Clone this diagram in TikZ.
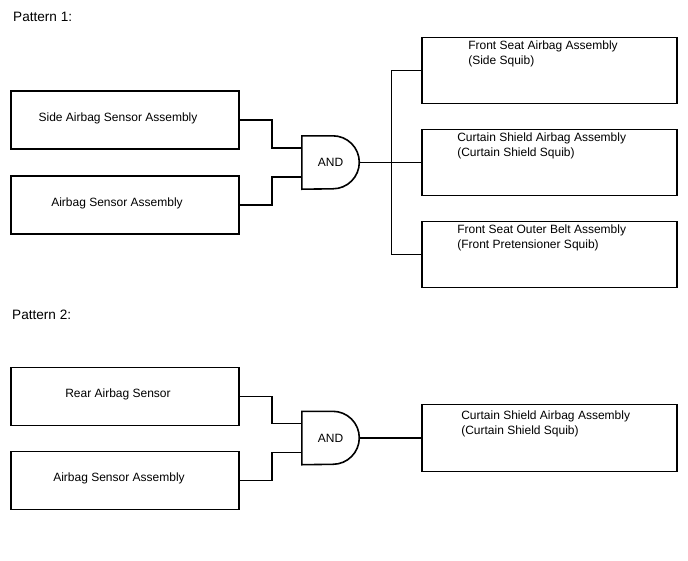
\documentclass[tikz,border=0pt]{standalone}
\usepackage{fontspec}
\setmainfont{Liberation Sans}
\usetikzlibrary{positioning,calc}
\tikzset{
  inbox/.style={draw=black,line width=1.8pt,minimum width=228pt,minimum height=58pt,inner sep=0pt},
  outbox/.style={draw=black,line width=1.8pt,minimum width=255pt,minimum height=66pt,inner sep=0pt},
  gate/.style={minimum width=57pt,minimum height=53pt,inner sep=0pt,font=\fontsize{12}{15}\selectfont},
  gateline/.style={draw=black,line width=1.6pt},
  txt/.style={inner sep=0pt,font=\fontsize{12}{15}\selectfont,align=left},
  heading/.style={inner sep=0pt,font=\fontsize{13.6}{15}\selectfont,anchor=base west},
  wire/.style={draw=black,line width=1.2pt}
}

\begin{document}
\begin{tikzpicture}[x=1pt,y=-1pt]
  \useasboundingbox (0,0) rectangle (688,560);
  % pattern 1
  \node[heading] (head1) at (13,21.5) {Pattern 1:};
  \node[inbox] (side) at (125,120) {};
  \node[inbox] (abs1) at (125,205) {};
  \node[txt] (sidetxt) at ($(side.center)+(-7,-2)$) {Side Airbag Sensor Assembly};
  \node[txt] (abs1txt) at ($(abs1.center)+(-8,-2)$) {Airbag Sensor Assembly};
  \node[gate] (and1) at (330.5,162.5) {AND};
  \draw[gateline] (and1.north west) -- ++(31,0) arc[start angle=-90,end angle=90,radius=26.5] -- (and1.south west) -- cycle;
  \coordinate (and1a) at ($(and1.west)+(0,-14.5)$);
  \coordinate (and1b) at ($(and1.west)+(0,14.5)$);
  \node[outbox] (seat) at (549.5,70.5) {};
  \node[outbox] (csa1) at (549.5,162.5) {};
  \node[outbox] (belt) at (549.5,254.5) {};
  \node[txt,anchor=north west] (seattxt) at ($(seat.north west)+(47,3.8)$) {Front Seat Airbag Assembly\\(Side Squib)};
  \node[txt,anchor=north west] (csa1txt) at ($(csa1.north west)+(36,3.8)$) {Curtain Shield Airbag Assembly\\(Curtain Shield Squib)};
  \node[txt,anchor=north west] (belttxt) at ($(belt.north west)+(36,3.8)$) {Front Seat Outer Belt Assembly\\(Front Pretensioner Squib)};
  \draw[wire] (side.east) -- ++(32,0) |- (and1a);
  \draw[wire] (abs1.east) -- ++(32,0) |- (and1b);
  \draw[wire] (and1.east) -- (csa1.west);
  \draw[wire] (seat.west) -- ++(-30,0) |- (belt.west);
  % pattern 2
  \node[heading] (head2) at (12,319.5) {Pattern 2:};
  \node[inbox] (rear) at (125,396.5) {};
  \node[inbox] (abs2) at (125,480.5) {};
  \node[txt] (reartxt) at ($(rear.center)+(-7,-2)$) {Rear Airbag Sensor};
  \node[txt] (abs2txt) at ($(abs2.center)+(-6,-2)$) {Airbag Sensor Assembly};
  \node[gate] (and2) at (330.5,438) {AND};
  \draw[gateline] (and2.north west) -- ++(31,0) arc[start angle=-90,end angle=90,radius=26.5] -- (and2.south west) -- cycle;
  \coordinate (and2a) at ($(and2.west)+(0,-14.5)$);
  \coordinate (and2b) at ($(and2.west)+(0,14.5)$);
  \node[outbox,minimum height=67pt] (csa2) at (549.5,438) {};
  \node[txt,anchor=north west] (csa2txt) at ($(csa2.north west)+(40,6.8)$) {Curtain Shield Airbag Assembly\\(Curtain Shield Squib)};
  \draw[wire] (rear.east) -- ++(32,0) |- (and2a);
  \draw[wire] (abs2.east) -- ++(32,0) |- (and2b);
  \draw[wire] (and2.east) -- (csa2.west);
\end{tikzpicture}
\end{document}
